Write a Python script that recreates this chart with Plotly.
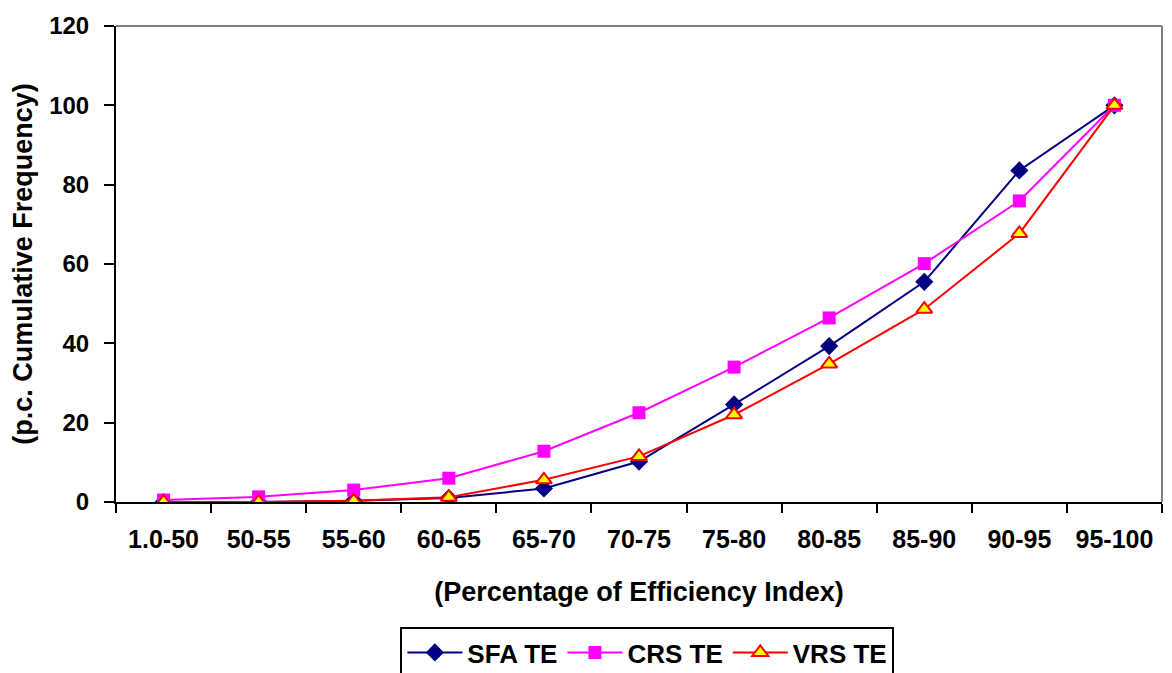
import plotly.graph_objects as go

categories = ["1.0-50", "50-55", "55-60", "60-65", "65-70", "70-75", "75-80", "80-85", "85-90", "90-95", "95-100"]
sfa_te = [0.0, 0.0, 0.3, 1.0, 3.4, 10.2, 24.6, 39.3, 55.5, 83.6, 100.0]
crs_te = [0.5, 1.3, 3.0, 6.0, 12.8, 22.5, 34.0, 46.4, 60.1, 75.9, 100.0]
vrs_te = [0.0, 0.0, 0.3, 1.2, 5.6, 11.5, 22.0, 34.8, 48.6, 67.7, 100.0]

font_family = "Liberation Sans, Arial, sans-serif"

fig = go.Figure()
fig.add_trace(go.Scatter(
    x=categories, y=sfa_te, name="SFA TE", mode="lines+markers",
    line=dict(color="#000080", width=2),
    marker=dict(symbol="diamond", size=14, color="#000080", line=dict(width=0)),
))
fig.add_trace(go.Scatter(
    x=categories, y=crs_te, name="CRS TE", mode="lines+markers",
    line=dict(color="#FF00FF", width=2),
    marker=dict(symbol="square", size=13, color="#FF00FF", line=dict(width=0)),
))
fig.add_trace(go.Scatter(
    x=categories, y=vrs_te, name="VRS TE", mode="lines+markers",
    line=dict(color="#FF0000", width=2),
    marker=dict(symbol="triangle-up", size=14, color="#FFFF00", line=dict(color="#FF0000", width=2)),
))

fig.update_layout(
    width=1164, height=690,
    margin=dict(l=108, r=10, t=18, b=196),
    paper_bgcolor="white", plot_bgcolor="white",
    font=dict(family=font_family, size=25, color="black", weight="bold"),
    showlegend=True,
    legend=dict(
        orientation="h", x=0.508, xanchor="center", y=-0.2626, yanchor="top",
        bordercolor="black", borderwidth=2, bgcolor="white",
        font=dict(family=font_family, size=26, color="black", weight="bold"),
        itemwidth=55, tracegroupgap=0,
    ),
    xaxis=dict(
        type="category", tickson="boundaries", ticks="outside", ticklen=9,
        tickwidth=2, tickcolor="black", showline=True, linecolor="black", linewidth=2,
        showgrid=False, zeroline=False, range=[-0.5, 10.5], automargin=False,
        ticklabelstandoff=14,
        tickfont=dict(family=font_family, size=25, color="black", weight="bold"),
        title=dict(text="(Percentage of Efficiency Index)", standoff=30,
                   font=dict(family=font_family, size=27, color="black", weight="bold")),
    ),
    yaxis=dict(
        range=[0, 120], dtick=20, ticks="outside", ticklen=10, tickwidth=2, tickcolor="black",
        showline=True, linecolor="black", linewidth=2, showgrid=False, zeroline=False,
        automargin=False, ticklabelstandoff=10,
        tickfont=dict(family=font_family, size=24, color="black", weight="bold"),
        title=dict(text="(p.c. Cumulative Frequency)", standoff=13,
                   font=dict(family=font_family, size=27, color="black", weight="bold")),
    ),
    shapes=[
        dict(type="line", xref="paper", yref="paper", x0=0, x1=1, y0=1, y1=1,
             line=dict(color="#808080", width=2)),
        dict(type="line", xref="paper", yref="paper", x0=1, x1=1, y0=0, y1=1,
             line=dict(color="#808080", width=2)),
    ],
)

fig.write_html("out.html")
